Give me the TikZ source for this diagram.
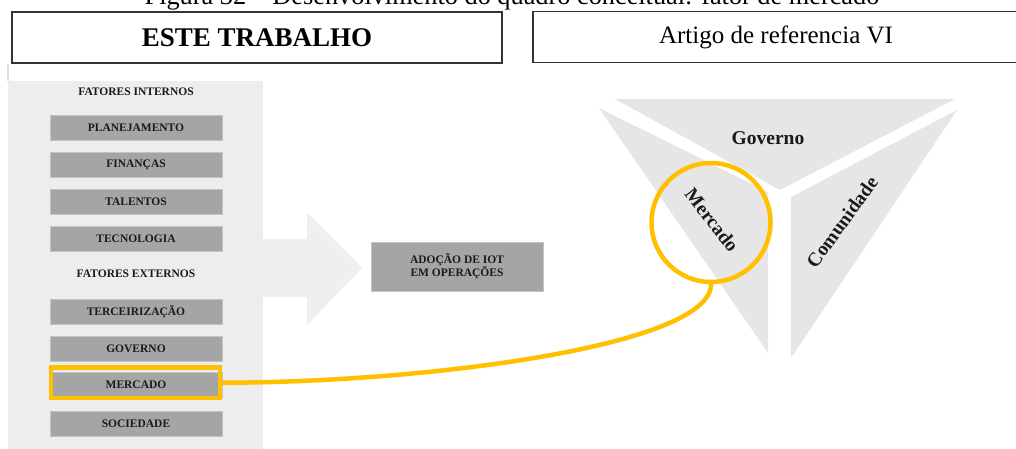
\documentclass[tikz,border=0pt]{standalone}
\usepackage{fontspec}
\setmainfont{Liberation Serif}
\usetikzlibrary{calc}
\definecolor{hlyellow}{HTML}{FFC000}
\definecolor{panelgray}{HTML}{EDEDED}
\definecolor{arrowgray}{HTML}{EFEFEF}
\definecolor{boxgray}{HTML}{A5A5A5}
\definecolor{boxedge}{HTML}{C4C4C4}
\definecolor{trigray}{HTML}{E6E6E6}
\definecolor{inkdark}{HTML}{1A1A1A}
\begin{document}
\begin{tikzpicture}[x=1pt,y=-1pt,
  header/.style={draw=black!80,line width=1.5pt,fill=white,minimum height=51pt,inner sep=0pt},
  factor/.style={fill=boxgray,draw=boxedge,line width=0.8pt,minimum width=172pt,minimum height=25pt,
    inner sep=0pt,font=\fontsize{11.5}{12}\selectfont\bfseries,text=inkdark},
  grouplabel/.style={font=\fontsize{11.5}{12}\selectfont\bfseries,text=inkdark},
  highlight/.style={draw=hlyellow,line width=4.5pt,minimum width=169pt,minimum height=30.5pt,inner sep=0pt},
  conn/.style={draw=hlyellow,line width=4.5pt,line cap=round},
  sector/.style={font=\fontsize{19.5}{20}\selectfont\bfseries,text=inkdark}]
\useasboundingbox (0,0) rectangle (1016,449);

% figure caption, partly above the page edge
\node[anchor=base,font=\fontsize{26.3}{28}\selectfont] (caption) at (512,4.5)
  {Figura 32 -- Desenvolvimento do quadro conceitual: fator de mercado};

% column headers
\node[header,minimum width=490pt,font=\fontsize{27}{28}\selectfont\bfseries] (este) at (257,37.5) {ESTE TRABALHO};
\node[header,minimum width=486pt,font=\fontsize{25}{26}\selectfont] (artigo) at (776,37) {Artigo de referencia VI};
\draw[black!12,line width=1.5pt] (8,64) -- (8,81);

% factor panel and the large arrow
\fill[panelgray] (8,81) rectangle (263,449);
\fill[arrowgray] (262,239) -- (307,239) -- (307,213) -- (362,268) -- (307,325) -- (307,297) -- (262,297) -- cycle;

\node[grouplabel] (internos) at (136,92) {FATORES INTERNOS};
\node[factor] (planej) at (136,127.5) {PLANEJAMENTO};
\node[factor] (financas) at (136,164.5) {FINANÇAS};
\node[factor] (talentos) at (136,201.5) {TALENTOS};
\node[factor] (tecno) at (136,238.5) {TECNOLOGIA};
\node[grouplabel] (externos) at (136,274) {FATORES EXTERNOS};
\node[factor] (terc) at (136,311.5) {TERCEIRIZAÇÃO};
\node[factor] (governo) at (136,349) {GOVERNO};
\node[factor] (mercado) at (136,385) {MERCADO};
\node[factor] (sociedade) at (136,423.5) {SOCIEDADE};
\node[highlight] (mhl) at (135.3,382.7) {};

% outcome box
\node[factor,minimum width=172pt,minimum height=49pt,align=center] (adocao) at (457,266.5)
  {ADOÇÃO DE IOT\\EM OPERAÇÕES};

% three-part triangle
\fill[trigray] (615,99) -- (955,99) -- (780,190) -- cycle;
\fill[trigray] (599,108) -- (768,192) -- (768,353) -- cycle;
\fill[trigray] (957,110) -- (791,197) -- (791,358) -- cycle;
\node[sector] (tgov) at (768,138) {Governo};
\node[sector,rotate=-52] (tmerc) at (712,220) {Mercado};
\node[sector,rotate=54] (tcom) at (842,222) {Comunidade};

% highlight circle and link
\node[draw=hlyellow,line width=4.5pt,circle,minimum size=119pt,inner sep=0pt] (circ) at (711,222.5) {};
\draw[conn] (mhl.east) .. controls +(200,0) and +(0,62) .. (circ.south);
\end{tikzpicture}
\end{document}
